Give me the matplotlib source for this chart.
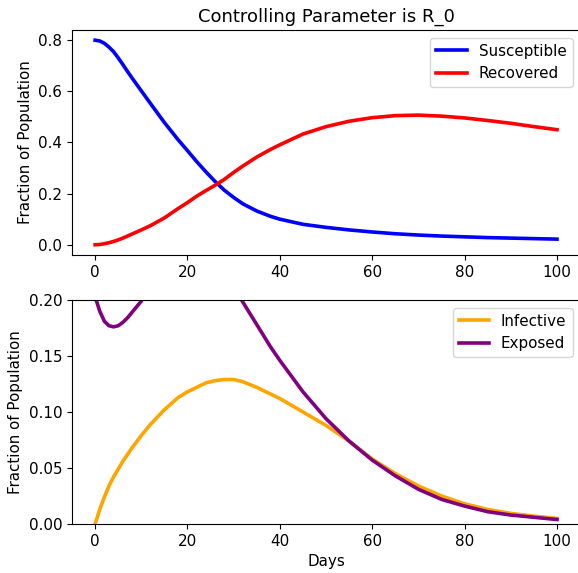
import matplotlib
matplotlib.use("Agg")
import matplotlib.pyplot as plt

plt.rcParams["font.size"] = 10.9

days = [0, 1, 2, 3, 4, 5, 6, 7, 8, 10, 12, 15, 18, 20, 22, 24, 26, 28, 30, 32, 35, 38, 40,
        45, 50, 55, 60, 65, 70, 75, 80, 85, 90, 95, 100]

susceptible = [0.800, 0.797, 0.788, 0.773, 0.755, 0.731, 0.705, 0.678, 0.652, 0.602, 0.552, 0.478,
               0.410, 0.368, 0.325, 0.285, 0.247, 0.213, 0.185, 0.160, 0.132, 0.111, 0.100, 0.080,
               0.068, 0.058, 0.050, 0.043, 0.038, 0.034, 0.031, 0.028, 0.026, 0.024, 0.022]
recovered = [0.000, 0.001, 0.004, 0.008, 0.013, 0.019, 0.026, 0.034, 0.042, 0.058, 0.075, 0.105,
             0.142, 0.165, 0.190, 0.212, 0.233, 0.256, 0.283, 0.308, 0.343, 0.373, 0.391, 0.433,
             0.462, 0.483, 0.497, 0.505, 0.507, 0.503, 0.496, 0.486, 0.475, 0.462, 0.450]
infective = [0.000, 0.013, 0.024, 0.034, 0.042, 0.049, 0.056, 0.062, 0.068, 0.079, 0.089, 0.102,
             0.113, 0.118, 0.122, 0.126, 0.128, 0.129, 0.129, 0.127, 0.122, 0.116, 0.112, 0.100,
             0.088, 0.074, 0.058, 0.045, 0.034, 0.025, 0.018, 0.013, 0.0095, 0.007, 0.005]
exposed = [0.203, 0.190, 0.181, 0.177, 0.176, 0.177, 0.180, 0.184, 0.189, 0.199, 0.212, 0.228,
           0.240, 0.245, 0.246, 0.242, 0.235, 0.225, 0.212, 0.198, 0.178, 0.158, 0.146, 0.118,
           0.094, 0.074, 0.057, 0.043, 0.031, 0.022, 0.016, 0.011, 0.008, 0.006, 0.004]

bottom_yticks = [0.00, 0.05, 0.10, 0.15, 0.20]

fig = plt.figure(figsize=(5.78, 5.73), dpi=100)
ax1 = fig.add_axes([0.1246, 0.555, 0.879, 0.3927])
ax2 = fig.add_axes([0.1246, 0.0855, 0.879, 0.391])

ax1.plot(days, susceptible, color="blue", lw=2.6, label="Susceptible")
ax1.plot(days, recovered, color="red", lw=2.6, label="Recovered")
ax1.set_title("Controlling Parameter is R_0", fontsize=13)
ax1.set_ylabel("Fraction of Population")
ax1.legend(loc="upper right")

ax2.plot(days, infective, color="orange", lw=2.6, label="Infective")
ax2.plot(days, exposed, color="purple", lw=2.6, label="Exposed")
ax2.set_ylim(0, 0.2)
ax2.set_yticks(bottom_yticks)
ax2.set_ylabel("Fraction of Population")
ax2.set_xlabel("Days")
ax2.legend(loc="upper right")

fig.savefig("out.png", dpi=100)
